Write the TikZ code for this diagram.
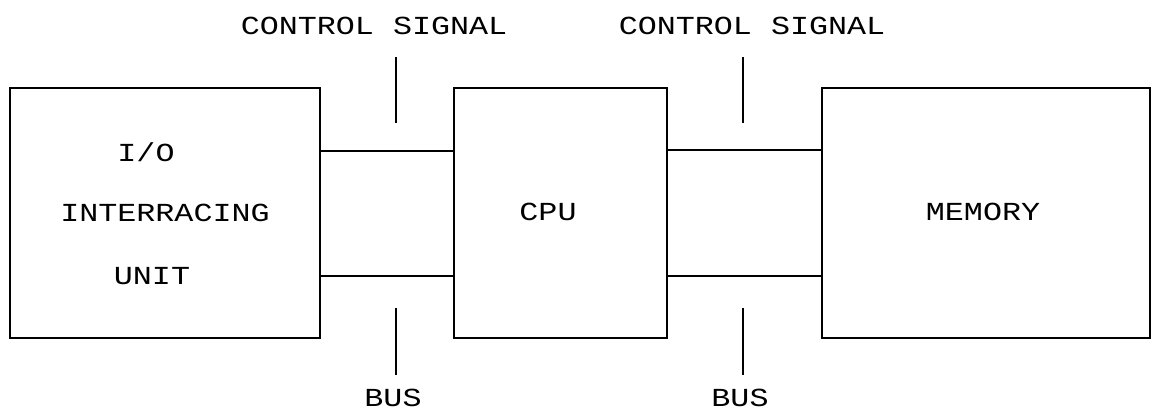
\documentclass[tikz,border=0pt]{standalone}
\usepackage{fontspec}
\newfontfamily\plotfont[FakeStretch=1.22]{Liberation Mono}
\begin{document}
\begin{tikzpicture}[x=1pt,y=-1pt,
  unitbox/.style={draw, line width=1.8pt, minimum height=250pt, inner sep=0pt},
  bus/.style={line width=1.2pt},
  tick/.style={line width=1.8pt},
  lbl/.style={font=\plotfont\fontsize{26}{27}\selectfont, inner sep=0pt, anchor=center}]
\useasboundingbox (0,0) rectangle (1159,413);
\node[unitbox, minimum width=310pt] (io) at (165,213) {};
\node[unitbox, minimum width=213pt] (cpu) at (560.5,213) {};
\node[unitbox, minimum width=328pt] (mem) at (986,213) {};
% box texts
\node[lbl] (io1) at (146,152) {I/O};
\node[lbl] (io2) at (165,213) {INTERRACING};
\node[lbl] (io3) at (152,276) {UNIT};
\node[lbl] (cpul) at (548,212) {CPU};
\node[lbl] (meml) at (983,212) {MEMORY};
% buses
\draw[bus] ([yshift=62pt]io.east) -- ([yshift=62pt]cpu.west);
\draw[bus] ([yshift=-63pt]io.east) -- ([yshift=-63pt]cpu.west);
\draw[bus] ([yshift=63pt]cpu.east) -- ([yshift=63pt]mem.west);
\draw[bus] ([yshift=-63pt]cpu.east) -- ([yshift=-63pt]mem.west);
% ticks
\coordinate (t1a) at (396,57); \coordinate (t1b) at (396,123);
\coordinate (t2a) at (396,308); \coordinate (t2b) at (396,375);
\coordinate (t3a) at (743,57); \coordinate (t3b) at (743,123);
\coordinate (t4a) at (743,308); \coordinate (t4b) at (743,375);
\draw[tick] (t1a) -- (t1b);
\draw[tick] (t2a) -- (t2b);
\draw[tick] (t3a) -- (t3b);
\draw[tick] (t4a) -- (t4b);
% labels
\node[lbl] (cs1) at (374,26) {CONTROL SIGNAL};
\node[lbl] (cs2) at (752,26) {CONTROL SIGNAL};
\node[lbl] (bus1) at (393,398) {BUS};
\node[lbl] (bus2) at (740,398) {BUS};
\end{tikzpicture}
\end{document}
